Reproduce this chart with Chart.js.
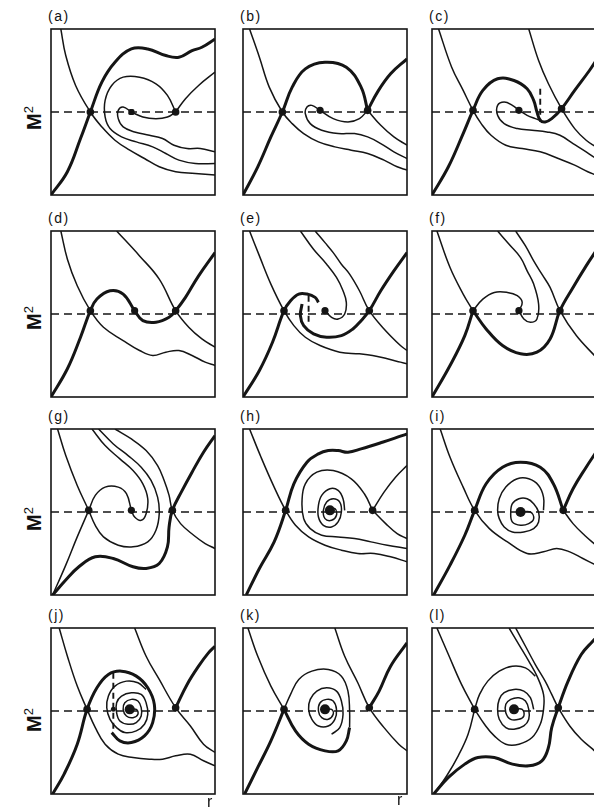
<!DOCTYPE html>
<html>
<head>
<meta charset="utf-8">
<script src="https://cdn.jsdelivr.net/npm/chart.js@4.4.1/dist/chart.umd.min.js"></script>
<style>
  html, body { margin: 0; padding: 0; background: #fff; }
  #sheet { width: 594px; height: 811px; position: relative; overflow: hidden;
           font-family: "Liberation Sans", Arial, sans-serif; color: #111; }
  canvas { position: absolute; }
  .tag { position: absolute; font-size: 14px; line-height: 14px; letter-spacing: 1.5px; }
  .ylab { position: absolute; font-size: 20px; font-weight: bold; line-height: 20px;
          transform: translate(-50%, -50%) rotate(-90deg); white-space: nowrap; }
  .ylab sup { font-size: 13px; font-weight: normal; vertical-align: 8px; }
  .xlab { position: absolute; font-size: 16px; line-height: 16px; }
</style>
</head>
<body>
<div id="sheet"></div>
<script>
// phase portraits, r along x (0..100), M^2 along y (0..100), sonic line at 50
const sonicLine = [[0, 50], [100, 50]];

// (a)
const aThick = [[0,0],[10,14],[18,34],[24,50],[31,68],[39,80],[49,88],[59,88],[70,84],[78,83],[86,87],[92,89],[100,94]];
const aHyper = [[6,100],[9,84],[15,66],[24,50],[31,41],[39,33],[48,27],[57,22],[66,17],[76,14],[88,13],[100,12]];
const aLoop = [[76,50],[71,60],[64,67],[54,71],[44,71],[37,66],[33,57],[33,47],[36,40],[43,35],[52,32],[62,29],[70,25],[78,21],[88,19],[100,19]];
const aArm = [[49,50],[44,53],[41,51],[41,46],[44,41],[51,38],[60,36],[68,34],[75,30],[83,28],[91,28],[100,26]];
const aLink = [[49,50],[56,47],[64,46],[71,47],[76,50]];
const aUp = [[76,50],[82,58],[90,66],[100,74]];
const aSaddles = [[24,50],[76,50]];
const aCenter = [[49,50]];

// (b)
const bThick = [[0,0],[9,17],[17,35],[24,50],[30,65],[38,76],[50,80],[63,77],[72,65],[76,51]];
const bThickR = [[76,51],[82,62],[90,73],[100,82]];
const bHyper = [[4,100],[10,83],[16,65],[24,50],[30,43],[37,37],[46,32],[56,29],[66,27],[76,25],[86,21],[94,17],[100,15]];
const bArm = [[47,51],[42,54],[39,53],[38,49],[41,43],[48,39],[58,37],[68,37],[76,35],[84,31],[92,26],[100,22]];
const bLink = [[47,51],[55,46],[64,44],[71,46],[76,51]];
const bDown = [[76,51],[84,42],[92,35],[100,30]];
const bSaddles = [[24,50],[76,51]];
const bCenter = [[47,51]];

// (c)
const cThick = [[0,0],[10,17],[19,37],[25,51],[31,63],[40,70],[50,69],[58,64],[62,57],[64,50],[66,45],[69,44],[73,46],[79,52],[87,63],[96,75],[100,81]];
const cHyperL = [[4,100],[12,77],[19,63],[25,51],[30,43],[36,36],[45,30],[55,28],[66,26],[77,22],[87,18],[95,14],[100,12]];
const cHyperR = [[59,100],[65,81],[71,67],[79,52],[87,40],[94,33],[100,29]];
const cArm = [[53,51],[49,54],[44,56],[40,54],[40,48],[44,43],[52,40],[61,39],[70,38],[78,36],[86,31],[94,26],[100,22]];
const cLink = [[53,51],[58,48],[63,46],[66,45]];
const cCut = [[66,64],[66,44]];
const cSaddles = [[25,51],[79,52]];
const cCenter = [[53,51]];

// (d)
const dThick = [[0,0],[10,17],[18,36],[24,52],[28,59],[36,64],[44,62],[51,52],[56,46],[64,45],[72,48],[76,52],[82,60],[90,73],[100,87]];
const dHyperL = [[6,100],[10,83],[16,67],[24,52],[32,42],[44,34],[54,28],[62,25],[70,27],[78,28],[86,25],[94,21],[100,19]];
const dHyperR = [[40,100],[54,85],[66,71],[76,52],[84,42],[92,35],[100,30]];
const dSaddles = [[24,52],[76,52]];
const dCenter = [[51,52]];

// (e)
const eThick = [[0,0],[10,16],[18,33],[25,52],[29,58],[34,62],[39,62],[44,60],[46,57]];
const eThickB = [[36,56],[35,49],[37,43],[43,38],[51,36],[60,37],[67,41],[72,46],[77,52],[84,64],[92,76],[100,87]];
const eHyperL = [[4,100],[10,85],[17,68],[25,52],[31,43],[38,36],[47,31],[59,27],[71,26],[79,25],[88,23],[96,21],[100,20]];
const eHook = [[35,100],[43,89],[51,80],[57,72],[61,64],[63,57],[62,50],[58,47],[54,48],[50,52]];
const eHyperR = [[44,100],[50,93],[55,87],[60,80],[65,74],[71,64],[77,52],[86,41],[96,31],[100,28]];
const eCut = [[40,61],[40,43]];
const eSaddles = [[25,52],[77,52]];
const eCenter = [[50,52]];

// (f)
const fThickL = [[0,0],[11,19],[20,37],[25,52]];
const fThickR = [[25,52],[33,41],[43,31],[54,26],[64,27],[72,35],[78,52],[86,66],[94,79],[100,88]];
const fHyperL = [[3,100],[11,78],[19,62],[25,52]];
const fArc = [[25,52],[31,59],[38,63],[46,63],[52,61],[55,57],[53,52]];
const fHook = [[40,100],[47,92],[54,84],[58,76],[62,68],[65,56],[64,47],[60,45],[56,47],[53,52]];
const fHyperR = [[51,100],[57,91],[62,82],[67,74],[72,66],[78,52],[88,37],[100,24]];
const fSaddles = [[25,52],[78,52]];
const fCenter = [[53,52]];

// (g)
const gThick = [[1,0],[9,9],[17,17],[27,23],[38,22],[50,17],[58,16],[66,19],[71,29],[72,41],[74,51],[80,63],[86,74],[93,86],[100,96]];
const gFoot = [[1,0],[9,18],[16,35],[23,51]];
const gHyperL = [[4,100],[9,84],[16,66],[23,51]];
const gArc = [[23,51],[27,60],[33,65],[41,65],[46,61],[49,51]];
const gHook = [[25,100],[33,90],[42,82],[50,75],[56,67],[59,58],[58,49],[55,45],[51,47],[49,51]];
const gLoop = [[29,100],[38,91],[47,84],[55,77],[61,69],[65,59],[66,49],[64,39],[59,32],[50,29],[41,30],[32,35],[27,42],[23,51]];
const gHyperR = [[39,100],[49,94],[58,87],[65,78],[69,69],[72,60],[74,51],[79,43],[87,36],[94,31],[100,28]];
const gSaddles = [[23,51],[74,51]];
const gCenter = [[49,51]];

// (h)
const hThick = [[2,0],[10,16],[19,32],[26,51],[31,67],[39,80],[46,85],[52,87],[58,87],[64,86],[72,88],[85,92],[97,96],[100,97]];
const hHyper = [[4,100],[11,83],[19,65],[26,51],[32,42],[40,35],[50,30],[60,27],[70,25],[80,25],[90,23],[100,20]];
const hLoop = [[79,51],[74,61],[66,70],[55,75],[45,74],[38,67],[36,57],[37,46],[41,40],[48,36],[58,35],[68,34],[78,32],[88,30],[100,28]];
const hUp = [[79,51],[86,62],[93,71],[100,78]];
const hDown = [[79,51],[87,43],[94,37],[100,34]];
const hSpiral = [[53,51],[56,52],[57,48],[54,45],[50,46],[49,51],[51,56],[55,58],[59,56],[60,50],[58,44],[54,41],[49,42],[46,47],[46,54],[48,60],[53,64],[58,63],[61,58],[62,51]];
const hSaddles = [[26,51],[79,51]];
const hCenter = [[53,51]];

// (i)
const iThickL = [[1,0],[11,18],[20,36],[26,51],[33,67],[43,77],[54,80],[66,77],[74,67],[80,51]];
const iThickR = [[80,51],[86,64],[94,77],[100,86]];
const iHyper = [[5,100],[11,83],[19,65],[26,51],[35,40],[46,32],[58,25],[68,26],[76,28],[84,26],[92,22],[100,18]];
const iDown = [[80,51],[86,43],[93,36],[100,30]];
const iSpiral = [[54,50],[60,50],[62,46],[59,43],[54,42],[49,44],[48,49],[49,55],[53,58],[58,58],[62,55],[65,50],[65,44],[62,40],[56,38],[49,38],[44,41],[41,46],[40,51],[41,58],[45,65],[52,70],[59,70],[65,66],[68,59],[68,51]];
const iSaddles = [[26,51],[80,51]];
const iCenter = [[54,50]];

// (j)
const jThick = [[1,0],[8,12],[16,30],[22,51],[28,64],[35,72],[43,74],[52,71],[59,64],[63,54],[62,43],[57,35],[49,31],[42,32],[37,37]];
const jThickR = [[76,52],[83,66],[90,77],[96,85],[100,89]];
const jHyperL = [[5,100],[10,83],[16,65],[22,51],[27,40],[33,30],[41,24],[50,22],[60,21],[68,21],[76,23],[85,24],[93,20],[100,17]];
const jHyperR = [[51,100],[58,83],[66,69],[76,52],[85,41],[93,30],[100,25]];
const jSpiral = [[48,51],[52,51],[53,48],[50,46],[46,47],[44,51],[45,55],[49,57],[53,56],[55,52],[55,47],[52,43],[47,42],[42,44],[40,49],[40,55],[43,59],[49,61],[55,60],[58,55],[59,48],[57,42],[52,38],[45,37],[40,40],[36,45],[34,52],[35,59],[39,65],[46,68],[53,67],[58,63]];
const jCut = [[38,73],[38,37]];
const jSaddles = [[22,51],[76,52]];
const jCenter = [[48,51]];
const jCross = [[38,51]];

// (k)
const kThickL = [[1,0],[9,16],[17,32],[25,51]];
const kThickB = [[25,51],[32,38],[40,30],[50,26],[58,26],[63,32],[65,40]];
const kThickR = [[77,52],[83,62],[90,77],[100,91]];
const kArc = [[25,51],[29,60],[34,69],[42,74],[52,75],[60,71],[64,62],[65,50],[65,40]];
const kHyperL = [[3,100],[9,83],[17,65],[25,51]];
const kHyperR = [[56,100],[62,83],[70,67],[77,52],[86,40],[95,30],[100,26]];
const kSpiral = [[50,51],[54,51],[55,48],[52,45],[48,46],[46,50],[47,55],[51,57],[55,56],[57,51],[56,45],[52,41],[46,41],[42,45],[40,51],[41,57],[45,62],[51,64],[57,62],[60,56],[61,48],[59,40],[54,36]];
const kSaddles = [[25,51],[77,52]];
const kCenter = [[50,51]];

// (l)
const lThick = [[1,0],[10,10],[20,18],[28,22],[38,22],[49,18],[59,17],[67,20],[71,28],[73,40],[77,52],[83,68],[91,84],[98,92],[100,94]];
const lHyperL = [[3,100],[10,84],[18,66],[26,51]];
const lFoot = [[26,51],[22,36],[16,23],[9,11],[2,1]];
const lArc = [[26,51],[29,60],[34,68],[41,74],[49,77],[57,76],[63,71]];
const lLoop = [[47,100],[53,90],[59,80],[64,71],[68,60],[68,51],[66,42],[61,34],[53,30],[45,30],[38,35],[32,42],[26,51]];
const lHyperR = [[51,100],[57,89],[63,78],[69,68],[73,60],[77,52],[84,41],[91,33],[98,27],[100,25]];
const lSpiral = [[50,51],[55,51],[56,47],[53,45],[48,45],[45,49],[45,54],[48,57],[53,58],[57,56],[59,51],[59,45],[56,41],[50,39],[45,40],[41,45],[40,51],[41,57],[44,61],[50,63],[56,62],[60,58],[62,51]];
const lSaddles = [[26,51],[77,52]];
const lCenter = [[50,51]];

const panels = [
  { tag: "(a)", row: 0, col: 0, thin: [aHyper, aLoop, aArm, aLink, aUp], thick: [aThick], cuts: [], saddles: aSaddles, centers: aCenter, square: true },
  { tag: "(b)", row: 0, col: 1, thin: [bHyper, bArm, bLink, bDown], thick: [bThick, bThickR], cuts: [], saddles: bSaddles, centers: bCenter },
  { tag: "(c)", row: 0, col: 2, thin: [cHyperL, cHyperR, cArm, cLink], thick: [cThick], cuts: [cCut], saddles: cSaddles, centers: cCenter },
  { tag: "(d)", row: 1, col: 0, thin: [dHyperL, dHyperR], thick: [dThick], cuts: [], saddles: dSaddles, centers: dCenter },
  { tag: "(e)", row: 1, col: 1, thin: [eHyperL, eHook, eHyperR], thick: [eThick, eThickB], cuts: [eCut], saddles: eSaddles, centers: eCenter },
  { tag: "(f)", row: 1, col: 2, thin: [fHyperL, fArc, fHook, fHyperR], thick: [fThickL, fThickR], cuts: [], saddles: fSaddles, centers: fCenter },
  { tag: "(g)", row: 2, col: 0, thin: [gFoot, gHyperL, gArc, gHook, gLoop, gHyperR], thick: [gThick], cuts: [], saddles: gSaddles, centers: gCenter },
  { tag: "(h)", row: 2, col: 1, thin: [hHyper, hLoop, hUp, hDown, hSpiral], thick: [hThick], cuts: [], saddles: hSaddles, centers: hCenter, big: true },
  { tag: "(i)", row: 2, col: 2, thin: [iHyper, iDown, iSpiral], thick: [iThickL, iThickR], cuts: [], saddles: iSaddles, centers: iCenter, big: true },
  { tag: "(j)", row: 3, col: 0, thin: [jHyperL, jHyperR, jSpiral], thick: [jThick, jThickR], cuts: [jCut], saddles: jSaddles, centers: jCenter, big: true, extra: jCross },
  { tag: "(k)", row: 3, col: 1, thin: [kHyperL, kHyperR, kArc, kSpiral], thick: [kThickL, kThickB, kThickR], cuts: [], saddles: kSaddles, centers: kCenter, big: true },
  { tag: "(l)", row: 3, col: 2, thin: [lHyperL, lFoot, lArc, lLoop, lHyperR, lSpiral], thick: [lThick], cuts: [], saddles: lSaddles, centers: lCenter, big: true }
];

// page layout
const panelLeft = [51, 243, 432];
const panelTop = [29, 231, 429, 628];
const W = 164, H = 166, PAD = 3;
const INK = "#151515";
const sheet = document.getElementById("sheet");

const toXY = pts => pts.map(([x, y]) => ({ x, y }));

function line(pts, width, dash) {
  return {
    data: toXY(pts), showLine: true, borderColor: INK, borderWidth: width,
    borderDash: dash || [], pointRadius: 0, tension: dash ? 0 : 0.4, fill: false
  };
}

function dots(pts, radius, style) {
  return {
    data: toXY(pts), showLine: false, pointRadius: radius, pointStyle: style || "circle",
    pointBackgroundColor: INK, pointBorderColor: INK, pointBorderWidth: 0
  };
}

// box round each plot area
const frame = {
  id: "frame",
  beforeDatasetsDraw(chart) {
    const { ctx, chartArea: a } = chart;
    ctx.save();
    ctx.strokeStyle = INK;
    ctx.lineWidth = 1.6;
    ctx.strokeRect(a.left, a.top, a.right - a.left, a.bottom - a.top);
    ctx.restore();
  }
};

function addText(cls, html, left, top) {
  const el = document.createElement("div");
  el.className = cls;
  el.innerHTML = html;
  el.style.left = left + "px";
  el.style.top = top + "px";
  sheet.appendChild(el);
}

panels.forEach(p => {
  const left = panelLeft[p.col], top = panelTop[p.row];
  const cv = document.createElement("canvas");
  cv.width = W + 2 * PAD;
  cv.height = H + 2 * PAD;
  cv.style.left = (left - PAD) + "px";
  cv.style.top = (top - PAD) + "px";
  sheet.appendChild(cv);

  const datasets = [];
  p.thin.forEach(c => datasets.push(line(c, 1.5)));
  datasets.push(line(sonicLine, 1.5, [8, 5]));
  p.cuts.forEach(c => datasets.push(line(c, 1.9, [6, 4])));
  p.thick.forEach(c => datasets.push(line(c, 3)));
  datasets.push(dots(p.saddles, 3.8));
  datasets.push(dots(p.centers, p.big ? 5 : 3.6, p.square ? "rectRounded" : "circle"));
  if (p.extra) datasets.push(dots(p.extra, 2.5));

  new Chart(cv, {
    type: "scatter",
    data: { datasets },
    options: {
      responsive: false,
      animation: false,
      devicePixelRatio: 1,
      layout: { padding: PAD, autoPadding: false },
      scales: {
        x: { type: "linear", min: 0, max: 100, display: false },
        y: { type: "linear", min: 0, max: 100, display: false }
      },
      plugins: { legend: { display: false }, tooltip: { enabled: false } }
    },
    plugins: [frame]
  });

  addText("tag", p.tag, left - 3, top - 20);
});

// axis names
[118, 318, 519, 720].forEach(y => addText("ylab", "M<sup>2</sup>", 31, y));
addText("xlab", "r", 207, 794);
addText("xlab", "r", 397, 792);
</script>
</body>
</html>
